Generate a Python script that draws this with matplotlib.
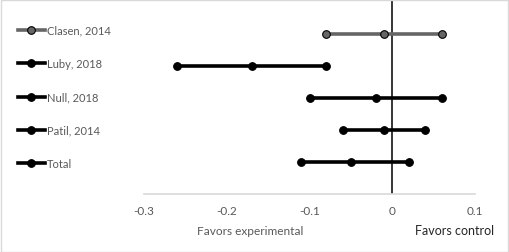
import matplotlib.pyplot as plt
from matplotlib.lines import Line2D
from matplotlib.patches import Rectangle

plt.rcParams['font.family'] = ['Lato', 'DejaVu Sans']

studies = ['Clasen, 2014', 'Luby, 2018', 'Null, 2018', 'Patil, 2014', 'Total']
lower = [-0.08, -0.26, -0.10, -0.06, -0.11]
point = [-0.01, -0.17, -0.02, -0.01, -0.05]
upper = [0.06, -0.08, 0.06, 0.04, 0.02]
colors = ['#666666', '#000000', '#000000', '#000000', '#000000']
xticks = [-0.3, -0.2, -0.1, 0, 0.1]
xticklabels = ['-0.3', '-0.2', '-0.1', '0', '0.1']

fig = plt.figure(figsize=(5.09, 2.53), dpi=100)
W, H = 509, 253
ax = fig.add_axes([144 / W, 1 - 195 / H, (475 - 144) / W, 195 / H])

for i, name in enumerate(studies):
    ax.plot([lower[i], point[i], upper[i]], [i, i, i], color=colors[i], lw=2.6,
            marker='o', ms=5.5, mfc=colors[i], mec='black', mew=0.8, zorder=3)

ax.axvline(0, color='black', lw=1.1, zorder=2)
ax.set_xlim(-0.3, 0.1)
ax.set_ylim(5, -35 / 32)
for s in ax.spines.values():
    s.set_visible(False)
ax.axhline(5, color='#d9d9d9', lw=1.2, clip_on=False)
ax.set_yticks([])
ax.set_xticks(xticks)
ax.set_xticklabels(xticklabels, color='#595959', fontsize=8.5)
ax.tick_params(axis='x', length=0, pad=8)

# legend entries on the left
leg_y = [31, 64, 98, 131, 164]
for i, name in enumerate(studies):
    yf = 1 - leg_y[i] / H
    fig.add_artist(Line2D([18 / W, 45 / W], [yf, yf], color=colors[i], lw=2.6,
                          transform=fig.transFigure))
    fig.add_artist(Line2D([31 / W], [yf], marker='o', ms=5.5, mfc=colors[i],
                          mec='black', mew=0.8, transform=fig.transFigure))
    fig.text(47 / W, yf, name, color='#595959', fontsize=8, va='center', ha='left')

fig.text(250 / W, 1 - 232 / H, 'Favors experimental', color='#595959',
         fontsize=8.6, ha='center', va='center')
fig.text(455 / W, 1 - 231 / H, 'Favors control', color='#262626',
         fontsize=9, ha='center', va='center')

fig.add_artist(Rectangle((0.5 / W, 0.5 / H), 1 - 1.5 / W, 1 - 1.5 / H,
                         transform=fig.transFigure, fill=False,
                         edgecolor='#d9d9d9', lw=1))

fig.savefig('out.png', dpi=100)
